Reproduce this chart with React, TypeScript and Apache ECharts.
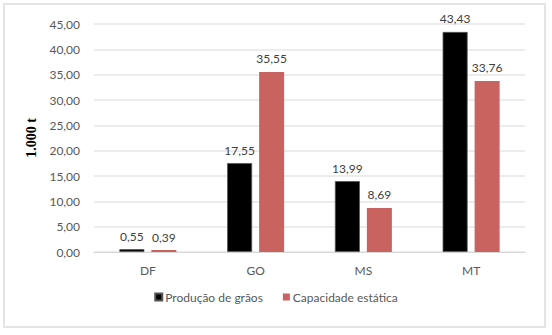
import React, { useEffect, useRef } from "react";
import * as echarts from "echarts";

const categories = ["DF", "GO", "MS", "MT"];
const producao = [0.55, 17.55, 13.99, 43.43];
const capacidade = [0.39, 35.55, 8.69, 33.76];
const seriesNames = ["Produção de grãos", "Capacidade estática"];
const yAxisName = "1.000 t";

const fmt = (v: number) => v.toFixed(2).replace(".", ",");
const FONT = "Lato, 'Open Sans', sans-serif";

export default function App() {
  const ref = useRef<HTMLDivElement>(null);
  useEffect(() => {
    if (!ref.current) return;
    const chart = echarts.init(ref.current, undefined, { renderer: "svg" });
    chart.setOption({
      animation: false,
      backgroundColor: "#ffffff",
      textStyle: { fontFamily: FONT },
      graphic: [
        {
          type: "rect",
          shape: { x: 4, y: 4, width: 541, height: 323 },
          style: { fill: "none", stroke: "#e4e4e4", lineWidth: 2 },
          silent: true,
        },
      ],
      grid: { left: 94, right: 27, top: 24, bottom: 83, containLabel: false },
      legend: {
        bottom: 27,
        left: "center",
        itemWidth: 7,
        itemHeight: 7,
        itemGap: 20,
        icon: "rect",
        textStyle: { color: "#595959", fontSize: 12, fontFamily: FONT, padding: [0, 0, 0, -2] },
        data: seriesNames,
      },
      xAxis: {
        type: "category",
        data: categories,
        axisLine: { lineStyle: { color: "#d9d9d9", width: 1 } },
        axisTick: { show: false },
        axisLabel: { color: "#595959", fontSize: 12, margin: 12, fontFamily: FONT },
      },
      yAxis: {
        type: "value",
        min: 0,
        max: 45,
        interval: 5,
        name: yAxisName,
        nameLocation: "middle",
        nameGap: 52,
        nameRotate: 90,
        nameTextStyle: {
          fontFamily: "'Liberation Serif', 'DejaVu Serif', serif",
          fontWeight: "bold",
          fontSize: 14,
          color: "#000000",
        },
        axisLine: { show: false },
        axisTick: { show: false },
        axisLabel: {
          color: "#595959",
          fontSize: 12,
          margin: 14,
          fontFamily: FONT,
          formatter: (v: number) => fmt(v),
        },
        splitLine: { lineStyle: { color: "#e6e6e6", width: 1.5 } },
      },
      series: [
        {
          name: seriesNames[0],
          type: "bar",
          data: producao,
          barWidth: 25,
          barGap: "28%",
          itemStyle: { color: "#000000", borderColor: "#555555", borderWidth: 0.8 },
          label: {
            show: true,
            position: "top",
            distance: 7,
            color: "#404040",
            fontSize: 12,
            fontFamily: FONT,
            formatter: (p: any) => fmt(p.value),
          },
        },
        {
          name: seriesNames[1],
          type: "bar",
          data: capacidade,
          barWidth: 25,
          itemStyle: { color: "#C9635F" },
          label: {
            show: true,
            position: "top",
            distance: 7,
            color: "#404040",
            fontSize: 12,
            fontFamily: FONT,
            formatter: (p: any) => fmt(p.value),
          },
        },
      ],
    });
    return () => chart.dispose();
  }, []);
  return (
    <div
      ref={ref}
      style={{ position: "absolute", left: 0, top: 0, width: 552, height: 335 }}
    />
  );
}
